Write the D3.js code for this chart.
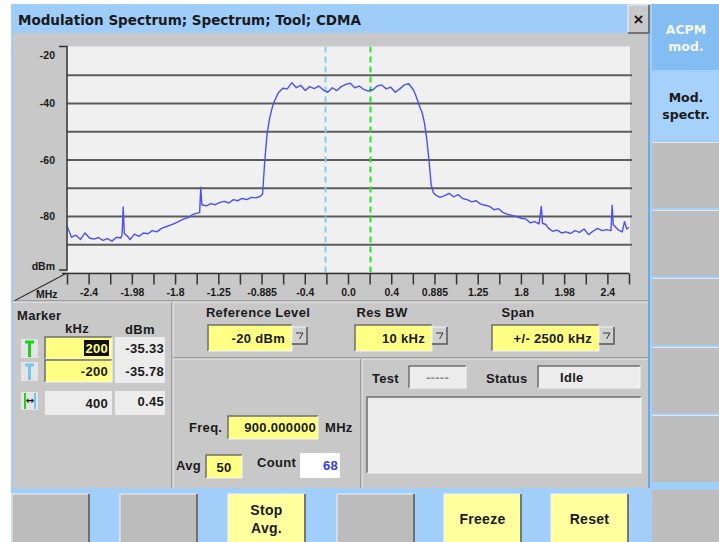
<!DOCTYPE html>
<html>
<head>
<meta charset="utf-8">
<title>Modulation Spectrum</title>
<script src="https://d3js.org/d3.v7.min.js"></script>
<style>
  body { margin: 0; padding: 0; background: #ffffff; }
  svg { display: block; }
  text { font-family: "Liberation Sans", Arial, sans-serif; font-weight: bold; fill: #1a1a1a; }
</style>
</head>
<body>
<div id="chart"></div>
<script>
var freqMHz = [-2.50,-2.46,-2.42,-2.38,-2.34,-2.30,-2.26,-2.22,-2.18,-2.14,-2.10,-2.06,-2.02,-2.01,-2.00,-1.99,-1.96,-1.94,-1.90,-1.86,
  -1.82,-1.78,-1.74,-1.70,-1.66,-1.62,-1.58,-1.54,-1.50,-1.46,-1.42,-1.38,-1.34,-1.32,-1.31,-1.30,-1.26,-1.22,-1.18,-1.14,
  -1.10,-1.06,-1.02,-0.98,-0.94,-0.90,-0.86,-0.82,-0.78,-0.76,-0.74,-0.72,-0.70,-0.68,-0.66,-0.62,-0.58,-0.54,-0.50,-0.46,
  -0.42,-0.38,-0.34,-0.30,-0.26,-0.22,-0.20,-0.18,-0.14,-0.10,-0.06,-0.02,0.02,0.06,0.10,0.14,0.18,0.20,0.22,0.26,
  0.30,0.34,0.38,0.42,0.46,0.50,0.54,0.58,0.60,0.62,0.64,0.66,0.68,0.70,0.72,0.74,0.76,0.78,0.82,0.86,
  0.90,0.94,0.98,1.02,1.06,1.10,1.14,1.18,1.22,1.26,1.30,1.34,1.38,1.42,1.46,1.50,1.54,1.58,1.62,1.66,
  1.70,1.72,1.73,1.76,1.78,1.82,1.86,1.90,1.94,1.98,2.02,2.06,2.10,2.14,2.18,2.22,2.26,2.30,2.34,2.35,
  2.36,2.40,2.44,2.46,2.48,2.50]
var levelDbm = [-83.5,-87.5,-86.8,-88.3,-86.0,-87.8,-88.2,-87.6,-88.6,-88.0,-88.9,-87.5,-87.8,-86.6,-76.8,-86.2,-87.2,-88.4,-86.4,-87.2,
  -86.0,-86.3,-85.2,-85.6,-84.4,-83.8,-83.2,-82.6,-81.8,-81.0,-80.6,-79.4,-79.0,-78.8,-69.8,-76.0,-76.4,-75.6,-76.0,-75.2,
  -74.8,-75.4,-74.2,-74.6,-73.8,-74.2,-73.4,-73.6,-73.0,-72.2,-60.0,-51.0,-46.0,-42.5,-39.8,-36.4,-34.8,-35.0,-32.8,-34.6,
  -33.8,-35.6,-34.2,-34.9,-34.0,-35.4,-35.78,-36.2,-34.6,-35.6,-34.2,-33.4,-33.0,-34.6,-34.0,-35.2,-35.8,-35.33,-35.4,-34.0,
  -33.6,-35.0,-34.4,-36.2,-35.0,-33.6,-33.2,-35.2,-37.0,-39.2,-41.5,-43.5,-47.0,-52.5,-60.0,-69.0,-71.8,-72.6,-73.4,-72.8,
  -72.0,-73.2,-72.4,-73.8,-74.2,-75.0,-74.6,-75.8,-76.2,-76.6,-77.8,-77.4,-78.8,-79.4,-79.8,-80.2,-80.8,-81.0,-82.4,-82.0,
  -82.8,-76.6,-82.6,-83.0,-84.2,-85.4,-85.0,-86.0,-85.6,-86.2,-85.2,-85.8,-84.6,-86.6,-85.4,-84.4,-85.2,-84.8,-85.2,-76.2,
  -83.0,-84.8,-85.6,-82.0,-84.6,-84.0]

var xTickLabels = ["-2.4", "-1.98", "-1.8", "-1.25", "-0.885", "-0.4", "0.0", "0.4", "0.885", "1.25", "1.8", "1.98", "2.4"]
var yTickValues = [-20, -40, -60, -80, -100]
var yTickLabels = ["-20", "-40", "-60", "-80", "dBm"]
var gridValues = [-30, -40, -50, -60, -70, -80, -90]
var markerKHz = [200, -200]
var markerDbm = ["-35.33", "-35.78"]
var deltaKHz = "400"
var deltaDb = "0.45"
var softKeys = ["", "", "Stop|Avg.", "", "Freeze", "Reset", ""]
var sideKeys = ["ACPM|mod.", "Mod.|spectr.", "", "", "", "", ""]

var W = 719, H = 542
var panel = "#c8c8c8", blue = "#a2cff9", yellow = "#ffff84", field = "#ececec"
var fs = 13

var svg = d3.select("#chart").append("svg").attr("width", W).attr("height", H)

svg.append("rect").attr("width", W).attr("height", H).attr("fill", "#ffffff")
svg.append("rect").attr("x", 11).attr("y", 4).attr("width", W - 11).attr("height", H - 4).attr("fill", blue)

// bevel helpers
function sunken(g, x, y, w, h, fill) {
  g.append("rect").attr("x", x).attr("y", y).attr("width", w).attr("height", h).attr("fill", fill)
  g.append("path").attr("d", "M" + x + "," + (y + h) + "V" + y + "H" + (x + w))
    .attr("fill", "none").attr("stroke", "#6e6e6e").attr("stroke-width", 1.5)
  g.append("path").attr("d", "M" + (x + w) + "," + y + "V" + (y + h) + "H" + x)
    .attr("fill", "none").attr("stroke", "#f4f4f4").attr("stroke-width", 1)
}
function raised(g, x, y, w, h, fill) {
  g.append("rect").attr("x", x).attr("y", y).attr("width", w).attr("height", h).attr("fill", fill)
  g.append("path").attr("d", "M" + x + "," + (y + h) + "V" + y + "H" + (x + w))
    .attr("fill", "none").attr("stroke", "#f2f2f2").attr("stroke-width", 1)
  g.append("path").attr("d", "M" + (x + w) + "," + y + "V" + (y + h) + "H" + x)
    .attr("fill", "none").attr("stroke", "#555").attr("stroke-width", 1.5)
}
function label(g, x, y, t, size, anchor, color) {
  return g.append("text").attr("x", x).attr("y", y).attr("font-size", size)
    .attr("text-anchor", anchor || "start").attr("dominant-baseline", "central")
    .style("letter-spacing", size >= 12 ? "0.3px" : null)
    .style("fill", color || "#1a1a1a").text(t)
}

// main window
svg.append("rect").attr("x", 13).attr("y", 33).attr("width", 636).attr("height", 455).attr("fill", panel)
svg.append("rect").attr("x", 13).attr("y", 6).attr("width", 615).attr("height", 27).attr("fill", "#9fcdfa")
label(svg, 18, 20, "Modulation Spectrum; Spectrum; Tool; CDMA", 13.5)
  .style("font-family", "'DejaVu Sans', Verdana, sans-serif").style("letter-spacing", null)
raised(svg, 628, 5, 21, 28, panel)
label(svg, 638.5, 19, "\u00d7", 17, "middle")
svg.append("line").attr("x1", 649).attr("x2", 649).attr("y1", 33).attr("y2", 488).attr("stroke", "#5a9ee0").attr("stroke-width", 1.5)

// plot
var x = d3.scaleLinear().domain([-2.5, 2.5]).range([67, 629])
var y = d3.scaleLinear().domain([-100, -20]).range([272.5, 46.5])
var tickPos = d3.scaleLinear().domain([0, 26]).range([67, 629])

svg.append("rect").attr("x", 67).attr("y", 46.5).attr("width", 563).attr("height", 226).attr("fill", "#f0f0f0")

svg.append("g").attr("transform", "translate(67,0)")
  .call(d3.axisRight(y).tickValues(gridValues).tickSize(565).tickFormat(""))
  .call(function (g) { g.select(".domain").remove() })
  .selectAll("line").attr("stroke", "#5c5c5c").attr("stroke-width", 2)

svg.append("defs").append("clipPath").attr("id", "clip")
  .append("rect").attr("x", 67).attr("y", 46.5).attr("width", 563).attr("height", 226)

var plot = svg.append("g").attr("clip-path", "url(#clip)")

plot.selectAll(".mk").data(markerKHz).enter().append("line")
  .attr("x1", function (d) { return x(d / 1000) }).attr("x2", function (d) { return x(d / 1000) })
  .attr("y1", 46.5).attr("y2", 272.5)
  .attr("stroke", function (d) { return d > 0 ? "#22e622" : "#7fcff5" })
  .attr("stroke-width", 2).attr("stroke-dasharray", "6,4")

var trace = d3.line()
  .x(function (d, i) { return x(freqMHz[i]) })
  .y(function (d) { return y(d) })

plot.append("path").datum(levelDbm).attr("d", trace)
  .attr("fill", "none").attr("stroke", "#4f4ff7").attr("stroke-width", 1.4).attr("stroke-linejoin", "round")

// y axis bracket and labels
svg.append("path").attr("d", "M59,46.5H67V270H59").attr("fill", "none").attr("stroke", "#333").attr("stroke-width", 1.5)
svg.selectAll(".ylab").data(yTickValues).enter().append("text")
  .attr("x", 55).attr("y", function (d) { return Math.min(Math.max(y(d), 55), 266) })
  .attr("text-anchor", "end").attr("dominant-baseline", "central").attr("font-size", 10.5)
  .text(function (d, i) { return yTickLabels[i] })

// x axis
var xAxis = svg.append("g").attr("transform", "translate(0,273.5)")
  .call(d3.axisBottom(tickPos).tickValues(d3.range(27)).tickSize(11).tickPadding(4)
    .tickFormat(function (i) { return i % 2 ? xTickLabels[(i - 1) / 2] : "" }))
xAxis.select(".domain").attr("d", "M62,0H629").attr("stroke", "#333").attr("stroke-width", 1.5)
xAxis.selectAll("line").attr("stroke", "#333").attr("stroke-width", 1.5)
xAxis.selectAll("text").attr("font-size", 10.5).attr("font-family", "Liberation Sans").attr("font-weight", "bold").attr("fill", "#1a1a1a")
svg.append("line").attr("x1", 14).attr("y1", 301).attr("x2", 66).attr("y2", 273.5).attr("stroke", "#333").attr("stroke-width", 1.2)
label(svg, 36, 294, "MHz", 10.5)

// panel dividers
function divider(x1, y1, x2, y2) {
  svg.append("line").attr("x1", x1).attr("y1", y1).attr("x2", x2).attr("y2", y2).attr("stroke", "#777").attr("stroke-width", 1)
  svg.append("line").attr("x1", x1 + (x1 === x2 ? 1 : 0)).attr("y1", y1 + (y1 === y2 ? 1 : 0))
    .attr("x2", x2 + (x1 === x2 ? 1 : 0)).attr("y2", y2 + (y1 === y2 ? 1 : 0)).attr("stroke", "#eeeeee").attr("stroke-width", 1)
}
divider(13, 301, 648, 301)
divider(172, 302, 172, 488)
divider(173, 358, 648, 358)
divider(361, 359, 361, 488)

// marker panel
label(svg, 17, 315, "Marker", fs)
label(svg, 77, 328, "kHz", fs, "middle")
label(svg, 140, 329, "dBm", fs, "middle")
var rowY = [337, 360]
markerKHz.forEach(function (v, i) {
  var c = i === 0 ? "#1fd11f" : "#74c6ef"
  svg.append("rect").attr("x", 21).attr("y", rowY[i] + 2).attr("width", 17).attr("height", 19).attr("fill", "#e4e4e4")
  svg.append("path").attr("d", "M25," + (rowY[i] + 5) + "H34M29.5," + (rowY[i] + 5) + "V" + (rowY[i] + 20))
    .attr("stroke", c).attr("stroke-width", 3).attr("fill", "none")
  sunken(svg, 45, rowY[i], 67, 22, yellow)
  if (i === 0) svg.append("rect").attr("x", 84).attr("y", rowY[i] + 3).attr("width", 25).attr("height", 16).attr("fill", "#111")
  label(svg, 108, rowY[i] + 11, String(v), fs, "end", i === 0 ? "#ffff8c" : "#1a1a1a")
  svg.append("rect").attr("x", 115).attr("y", rowY[i]).attr("width", 50).attr("height", 23).attr("fill", field)
  label(svg, 164, rowY[i] + 11, markerDbm[i], fs, "end")
})
svg.append("rect").attr("x", 21).attr("y", 392).attr("width", 17).attr("height", 18).attr("fill", "#e4e4e4")
svg.append("path").attr("d", "M25,393V409").attr("stroke", "#1fd11f").attr("stroke-width", 2)
svg.append("path").attr("d", "M35,393V409").attr("stroke", "#74c6ef").attr("stroke-width", 2)
label(svg, 30, 400, "\u2194", 10, "middle").style("font-family", "DejaVu Sans")
svg.append("rect").attr("x", 45).attr("y", 391).attr("width", 67).attr("height", 24).attr("fill", field)
label(svg, 108, 403, deltaKHz, fs, "end")
svg.append("rect").attr("x", 115).attr("y", 391).attr("width", 50).attr("height", 24).attr("fill", field)
label(svg, 164, 401, deltaDb, fs, "end")

// settings panel
function dropdown(cx, title, bx, bw, text) {
  label(svg, cx, 312, title, fs, "middle")
  sunken(svg, bx, 325, bw, 26, yellow)
  label(svg, bx + bw - 7, 338, text, fs, "end")
  raised(svg, bx + bw, 327, 15, 17, "#d0d0d0")
  svg.append("path").attr("d", "M" + (bx + bw + 4) + ",333H" + (bx + bw + 11) + "L" + (bx + bw + 7.5) + ",339")
    .attr("fill", "none").attr("stroke", "#333").attr("stroke-width", 1)
}
dropdown(258, "Reference Level", 208, 84, "-20 dBm")
dropdown(382, "Res BW", 355, 77, "10 kHz")
dropdown(518, "Span", 492, 107, "+/-  2500 kHz")

// frequency / averaging panel
label(svg, 189, 427, "Freq.", fs)
sunken(svg, 228, 416, 90, 23, yellow)
label(svg, 316, 427, "900.000000", fs, "end")
label(svg, 325, 427, "MHz", fs)
label(svg, 176, 465, "Avg", fs)
sunken(svg, 206, 455, 36, 23, yellow)
label(svg, 224, 467, "50", fs, "middle")
label(svg, 257, 462, "Count", fs)
svg.append("rect").attr("x", 300).attr("y", 453).attr("width", 40).attr("height", 25).attr("fill", "#ffffff")
label(svg, 338, 465, "68", fs, "end", "#2d3cf0")

// test / status panel
label(svg, 372, 378, "Test", fs)
sunken(svg, 409, 366, 57, 22, field)
label(svg, 437.5, 377, "-----", fs, "middle", "#8a8a8a")
label(svg, 486, 378, "Status", fs)
sunken(svg, 538, 366, 102, 22, field)
label(svg, 560, 377, "Idle", fs)
sunken(svg, 367, 397, 274, 76, field)

// right side keys
var sideY = [4, 72, 142, 210, 278, 347, 415]
sideKeys.forEach(function (k, i) {
  var h = (i < 6 ? sideY[i + 1] : 484) - sideY[i] - 2
  var fill = i === 0 ? "#84bdf2" : i === 1 ? "#a6d1fa" : "#bdbdbd"
  svg.append("rect").attr("x", 652).attr("y", sideY[i]).attr("width", 67).attr("height", h).attr("fill", fill)
  if (i > 1) svg.append("line").attr("x1", 652).attr("x2", 719).attr("y1", sideY[i] + 0.5).attr("y2", sideY[i] + 0.5).attr("stroke", "#e8e8e8")
  if (k) {
    var parts = k.split("|")
    parts.forEach(function (p, j) {
      label(svg, 686, sideY[i] + 25 + j * 17, p, 12.5, "middle", i === 0 ? "#f4f8ff" : "#1a1a1a")
        .style("font-family", "'DejaVu Sans', sans-serif").style("letter-spacing", null)
    })
  }
})
svg.append("rect").attr("x", 652).attr("y", 490).attr("width", 67).attr("height", 52).attr("fill", "#bdbdbd")

// bottom soft keys
var keyX = [12, 120, 228, 337, 444, 551]
softKeys.slice(0, 6).forEach(function (k, i) {
  var fill = k ? "#ffff9e" : "#bcbcbc"
  raised(svg, keyX[i], 494, 77, 50, fill)
  if (k) {
    var parts = k.split("|")
    parts.forEach(function (p, j) {
      label(svg, keyX[i] + 38.5, 519 + (j - (parts.length - 1) / 2) * 18, p, 14, "middle")
    })
  }
})
</script>
</body>
</html>
